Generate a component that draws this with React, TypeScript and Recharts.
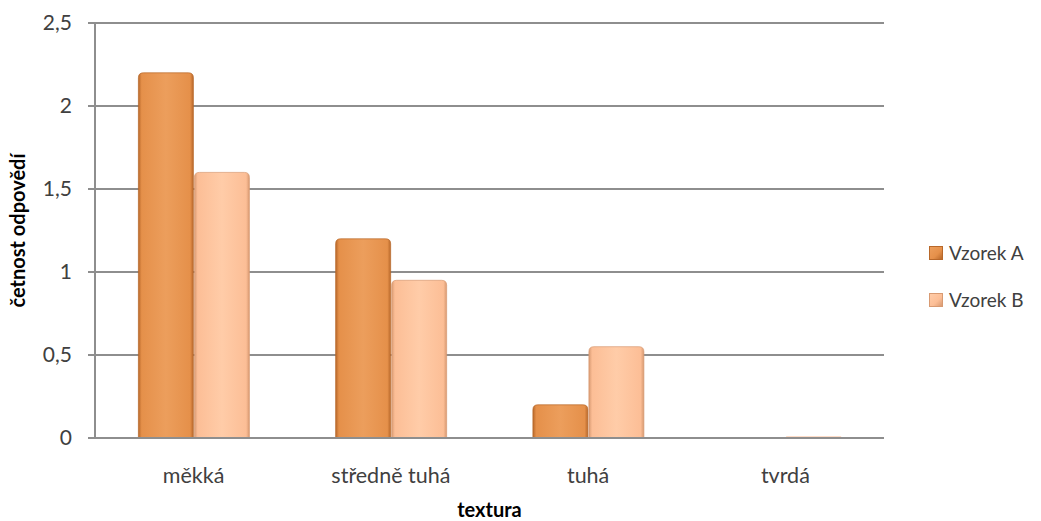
import { Bar, BarChart, CartesianGrid, XAxis, YAxis } from 'recharts'

const categories = ['měkká', 'středně tuhá', 'tuhá', 'tvrdá']
const vzorekA = [2.2, 1.2, 0.2, 0]
const vzorekB = [1.6, 0.95, 0.55, 0.01]
const yTicks = [0, 0.5, 1, 1.5, 2, 2.5]

const SERIES = [
  { key: 'a', name: 'Vzorek A', fill: '#E5904A', edge: '#B8682A', light: '#EC9E5C' },
  { key: 'b', name: 'Vzorek B', fill: '#FCBE96', edge: '#D89A72', light: '#FFCCA8' },
]

const data = categories.map((name, i) => ({ name, a: vzorekA[i], b: vzorekB[i] }))

const FONT = 'Lato, "Open Sans", sans-serif'
const TEXT = '#404040'
const GRID = '#8E8E8E'

// bevelled column with rounded top corners
function Column(props: any) {
  const { x, y, width, height, fill, edge, gid } = props
  if (!height || height <= 0) return null
  if (height < 4) {
    return <rect x={x} y={y} width={width} height={height} fill={fill} opacity={0.8} />
  }
  const r = Math.min(5, height / 2)
  const d = `M${x},${y + height} L${x},${y + r} Q${x},${y} ${x + r},${y} L${x + width - r},${y} Q${x + width},${y} ${x + width},${y + r} L${x + width},${y + height} Z`
  return (
    <g>
      <path d={d} fill={`url(#${gid})`} />
      <path d={d} fill="none" stroke={edge} strokeWidth={1} opacity={0.7} />
    </g>
  )
}

function LegendBox() {
  return (
    <div
      style={{
        position: 'absolute',
        left: 929,
        top: 241,
        fontFamily: FONT,
        fontSize: 19,
        color: TEXT,
      }}
    >
      {SERIES.map((s, i) => (
        <div key={s.key} style={{ display: 'flex', alignItems: 'center', marginTop: i ? 24 : 0 }}>
          <span
            style={{
              width: 14,
              height: 14,
              marginRight: 6,
              background: `linear-gradient(135deg, ${s.light}, ${s.fill} 60%, ${s.edge})`,
              border: `1px solid ${s.edge}`,
              boxSizing: 'border-box',
            }}
          />
          {s.name}
        </div>
      ))}
    </div>
  )
}

export default function App() {
  return (
    <div style={{ position: 'absolute', left: 0, top: 0, width: 1041, height: 521, background: '#fff' }}>
      <BarChart
        width={1041}
        height={521}
        data={data}
        margin={{ top: 23, right: 157, bottom: 0, left: 0 }}
        barCategoryGap="22%"
        barGap={1}
      >
        <defs>
          {SERIES.map((s) => (
            <linearGradient key={s.key} id={`g-${s.key}`} x1="0" y1="0" x2="1" y2="0">
              <stop offset="0" stopColor={s.edge} />
              <stop offset="0.06" stopColor={s.fill} />
              <stop offset="0.5" stopColor={s.light} />
              <stop offset="0.94" stopColor={s.fill} />
              <stop offset="1" stopColor={s.edge} />
            </linearGradient>
          ))}
        </defs>
        <CartesianGrid vertical={false} stroke={GRID} strokeWidth={2} />
        <XAxis
          dataKey="name"
          height={83}
          axisLine={{ stroke: GRID, strokeWidth: 2 }}
          tickLine={false}
          tickSize={6}
          tickMargin={24}
          tick={{ fill: TEXT, fontSize: 21.5, fontFamily: FONT }}
          label={{
            value: 'textura',
            position: 'insideBottom',
            offset: 4,
            fill: '#000',
            fontSize: 20,
            fontWeight: 700,
            fontFamily: FONT,
          }}
        />
        <YAxis
          width={95}
          domain={[0, 2.5]}
          ticks={yTicks}
          interval={0}
          axisLine={{ stroke: GRID, strokeWidth: 2 }}
          tickLine={{ stroke: GRID, strokeWidth: 2 }}
          tickSize={7}
          tickMargin={16}
          tickFormatter={(v) => String(v).replace('.', ',')}
          tick={{ fill: TEXT, fontSize: 21, fontFamily: FONT }}
          label={{
            value: 'četnost odpovědí',
            angle: -90,
            position: 'insideLeft',
            offset: 18,
            style: { textAnchor: 'middle' },
            fill: '#000',
            fontSize: 20,
            fontWeight: 700,
            fontFamily: FONT,
          }}
        />
        {SERIES.map((s) => (
          <Bar
            key={s.key}
            dataKey={s.key}
            name={s.name}
            fill={s.fill}
            isAnimationActive={false}
            shape={(p: any) => <Column {...p} fill={s.fill} edge={s.edge} gid={`g-${s.key}`} />}
          />
        ))}
      </BarChart>
      <LegendBox />
    </div>
  )
}
